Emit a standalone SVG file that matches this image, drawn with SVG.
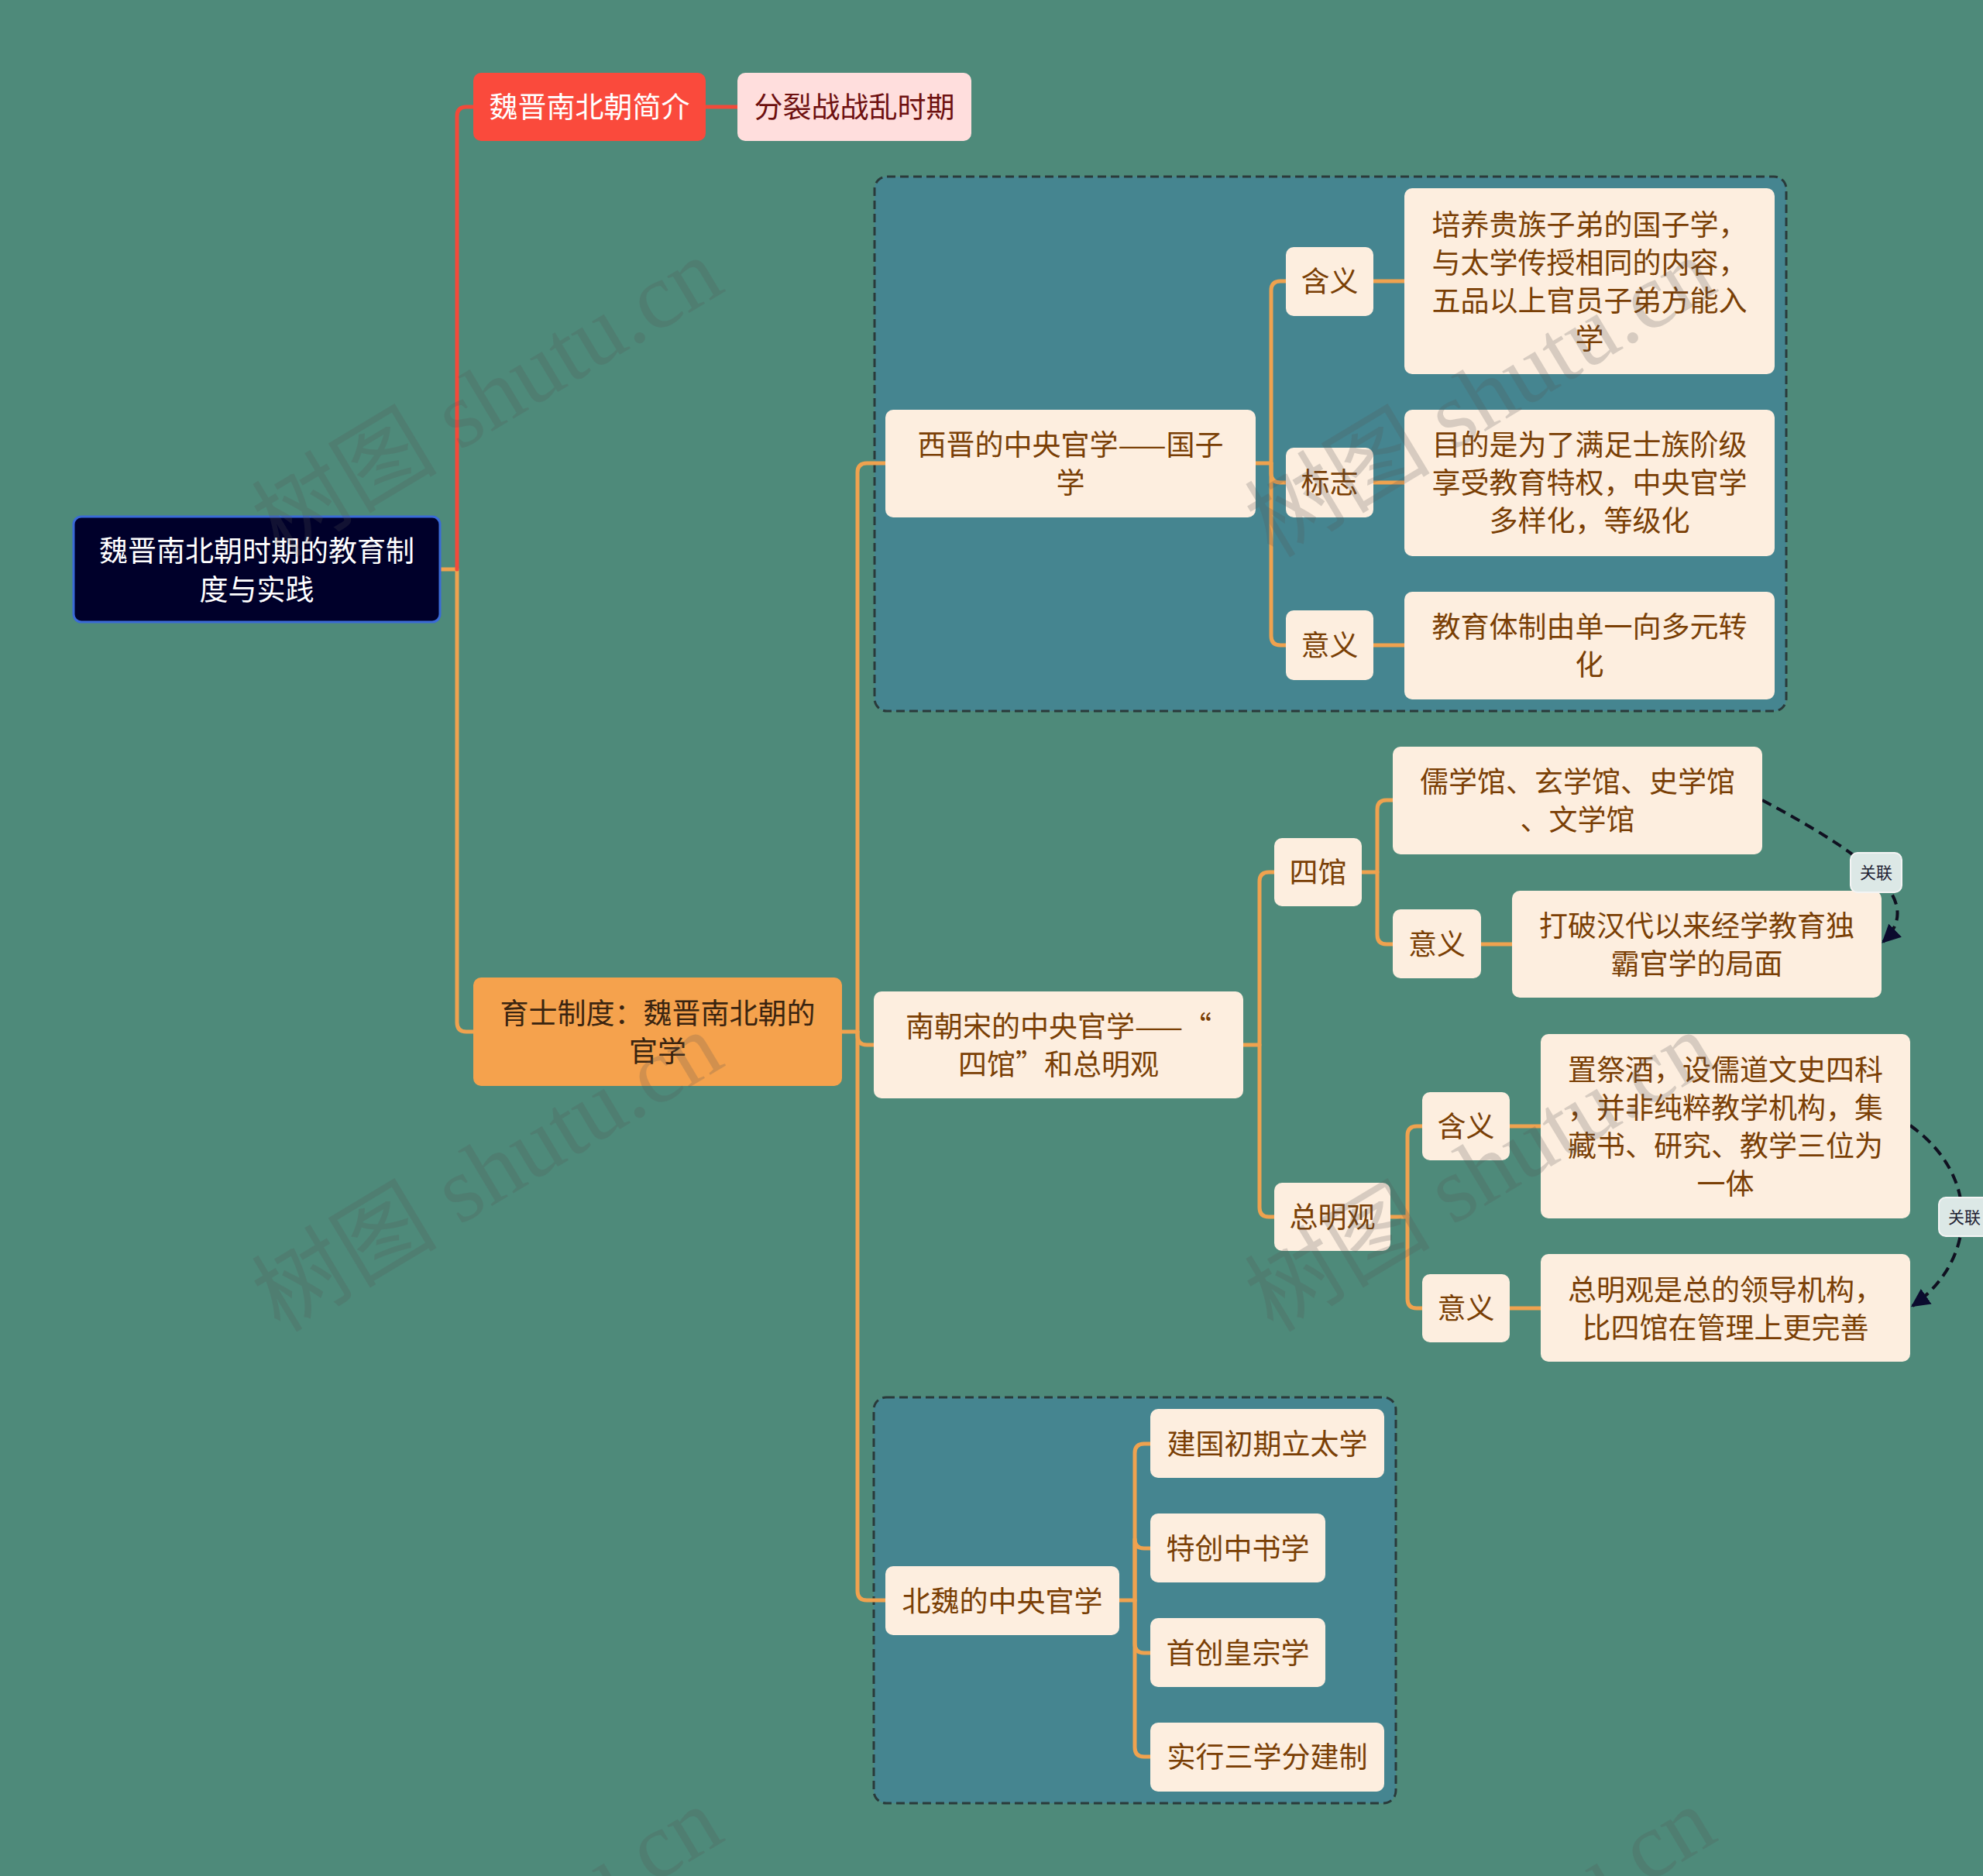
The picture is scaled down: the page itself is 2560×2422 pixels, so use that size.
<svg xmlns="http://www.w3.org/2000/svg" width="2560" height="2422" viewBox="0 0 2560 2422">
<defs>
<style>
.t{font-family:"Noto Sans CJK SC","Noto Sans",sans-serif;font-size:37px;text-anchor:middle}
.n rect{fill:#fdeedf}
.n text{fill:#7a3f05}
.ln{fill:none;stroke:#efa24f;stroke-width:5;stroke-linecap:round;stroke-linejoin:round}
.red{fill:none;stroke:#f24a3a;stroke-width:5;stroke-linecap:round}
.grp{fill:#458590;stroke:#2a3a3a;stroke-width:3;stroke-dasharray:11 6}
.rel{fill:none;stroke:#101020;stroke-width:4;stroke-dasharray:13 8}
.lab rect{fill:#dce8e6;stroke:#f4f4f4;stroke-width:2}
.lab text{font-family:"Noto Sans CJK SC",sans-serif;font-size:21px;fill:#222233;text-anchor:middle}
.wm{font-family:"Liberation Serif","Noto Sans CJK SC",serif;font-size:120px;fill:#555555;opacity:0.22;text-anchor:middle}
</style>
<marker id="arr" viewBox="0 0 10 10" refX="9" refY="5" markerWidth="6" markerHeight="6" markerUnits="strokeWidth" orient="auto">
<path d="M0,0 L10,5 L0,10 z" fill="#0b0b2e"/>
</marker>
</defs>
<rect width="2560" height="2422" fill="#4e8a7a"/>

<g id="groups">
<rect class="grp" x="1129" y="228" width="1177" height="690" rx="16"/>
<rect class="grp" x="1128" y="1804" width="674" height="524" rx="16"/>
</g>

<g id="connectors">
<path class="ln" d="M568,735 H590 V1320 Q590,1332 602,1332 H611"/>
<path class="red" d="M590,735 V150 Q590,138 602,138 H611"/>
<path class="red" d="M911,138 H952"/>
<path class="ln" d="M1087,1332 H1107 V610 Q1107,598 1119,598 H1143"/>
<path class="ln" d="M1107,1332 V1337 Q1107,1349 1119,1349 H1128"/>
<path class="ln" d="M1107,1332 V2054 Q1107,2066 1119,2066 H1143"/>
<path class="ln" d="M1621,598 H1641 V375 Q1641,363 1653,363 H1660"/>
<path class="ln" d="M1641,598 V611 Q1641,623 1653,623 H1660"/>
<path class="ln" d="M1641,598 V821 Q1641,833 1653,833 H1660"/>
<path class="ln" d="M1773,363 H1813"/>
<path class="ln" d="M1773,623 H1813"/>
<path class="ln" d="M1773,833 H1813"/>
<path class="ln" d="M1605,1349 H1626 V1138 Q1626,1126 1638,1126 H1645"/>
<path class="ln" d="M1626,1349 V1559 Q1626,1571 1638,1571 H1645"/>
<path class="ln" d="M1758,1126 H1778 V1045 Q1778,1033 1790,1033 H1798"/>
<path class="ln" d="M1778,1126 V1207 Q1778,1219 1790,1219 H1798"/>
<path class="ln" d="M1912,1219 H1952"/>
<path class="ln" d="M1795,1571 H1817 V1466 Q1817,1454 1829,1454 H1836"/>
<path class="ln" d="M1817,1571 V1677 Q1817,1689 1829,1689 H1836"/>
<path class="ln" d="M1949,1454 H1989"/>
<path class="ln" d="M1949,1689 H1989"/>
<path class="ln" d="M1444,2066 H1465 V1876 Q1465,1864 1477,1864 H1485"/>
<path class="ln" d="M1465,2066 V1987 Q1465,1999 1477,1999 H1485"/>
<path class="ln" d="M1465,2066 V2122 Q1465,2134 1477,2134 H1485"/>
<path class="ln" d="M1465,2066 V2256 Q1465,2268 1477,2268 H1485"/>
<path class="rel" d="M2275,1033 C2400,1100 2490,1160 2431,1216" marker-end="url(#arr)"/>
<path class="rel" d="M2466,1453 C2560,1520 2550,1630 2469,1686" marker-end="url(#arr)"/>
</g>

<g id="root">
<rect x="95" y="667" width="473" height="136" rx="10" fill="#00002a" stroke="#3a6ad6" stroke-width="3"/>
<text class="t" fill="#ffffff"><tspan x="331.5" y="725">魏晋南北朝时期的教育制</tspan><tspan x="331.5" y="775">度与实践</tspan></text>
</g>
<g id="n-intro">
<rect x="611" y="94" width="300" height="88" rx="10" fill="#fa4a3c"/>
<text class="t" fill="#ffffff" x="761" y="152">魏晋南北朝简介</text>
</g>
<g id="n-split">
<rect x="952" y="94" width="302" height="88" rx="10" fill="#ffdedd"/>
<text class="t" fill="#6e1010" x="1103" y="152">分裂战战乱时期</text>
</g>
<g id="n-yushi">
<rect x="611" y="1262" width="476" height="140" rx="10" fill="#f5a24d"/>
<text class="t" fill="#3a2410"><tspan x="849" y="1321.5">育士制度：魏晋南北朝的</tspan><tspan x="849" y="1370.5">官学</tspan></text>
</g>

<g id="n-xijin" class="n">
<rect x="1143" y="529" width="478" height="139" rx="10"/>
<text class="t"><tspan x="1382" y="587.5">西晋的中央官学——国子</tspan><tspan x="1382" y="636.5">学</tspan></text>
</g>
<g id="n-hanyi1" class="n">
<rect x="1660" y="319" width="113" height="89" rx="10"/>
<text class="t" x="1716.5" y="377">含义</text>
</g>
<g id="n-biaozhi" class="n">
<rect x="1660" y="578" width="113" height="90" rx="10"/>
<text class="t" x="1716.5" y="637">标志</text>
</g>
<g id="n-yiyi1" class="n">
<rect x="1660" y="788" width="113" height="90" rx="10"/>
<text class="t" x="1716.5" y="847">意义</text>
</g>
<g id="n-t1" class="n">
<rect x="1813" y="243" width="478" height="240" rx="10"/>
<text class="t"><tspan x="2052" y="303.5">培养贵族子弟的国子学，</tspan><tspan x="2052" y="352.5">与太学传授相同的内容，</tspan><tspan x="2052" y="401.5">五品以上官员子弟方能入</tspan><tspan x="2052" y="450.5">学</tspan></text>
</g>
<g id="n-t2" class="n">
<rect x="1813" y="529" width="478" height="189" rx="10"/>
<text class="t"><tspan x="2052" y="588">目的是为了满足士族阶级</tspan><tspan x="2052" y="637">享受教育特权，中央官学</tspan><tspan x="2052" y="686">多样化，等级化</tspan></text>
</g>
<g id="n-t3" class="n">
<rect x="1813" y="764" width="478" height="139" rx="10"/>
<text class="t"><tspan x="2052" y="822.5">教育体制由单一向多元转</tspan><tspan x="2052" y="871.5">化</tspan></text>
</g>

<g id="n-nanchao" class="n">
<rect x="1128" y="1280" width="477" height="138" rx="10"/>
<text class="t"><tspan x="1366.5" y="1338.5">南朝宋的中央官学——“</tspan><tspan x="1366.5" y="1387.5">四馆”和总明观</tspan></text>
</g>
<g id="n-siguan" class="n">
<rect x="1645" y="1082" width="113" height="88" rx="10"/>
<text class="t" x="1701.5" y="1140">四馆</text>
</g>
<g id="n-zongmingguan" class="n">
<rect x="1645" y="1527" width="150" height="88" rx="10"/>
<text class="t" x="1720" y="1585">总明观</text>
</g>
<g id="n-ruxue" class="n">
<rect x="1798" y="964" width="477" height="139" rx="10"/>
<text class="t"><tspan x="2036.5" y="1023">儒学馆、玄学馆、史学馆</tspan><tspan x="2036.5" y="1072">、文学馆</tspan></text>
</g>
<g id="n-yiyi2" class="n">
<rect x="1798" y="1174" width="114" height="89" rx="10"/>
<text class="t" x="1855" y="1233">意义</text>
</g>
<g id="n-dapo" class="n">
<rect x="1952" y="1150" width="477" height="138" rx="10"/>
<text class="t"><tspan x="2190.5" y="1208.5">打破汉代以来经学教育独</tspan><tspan x="2190.5" y="1257.5">霸官学的局面</tspan></text>
</g>
<g id="n-hanyi2" class="n">
<rect x="1836" y="1410" width="113" height="88" rx="10"/>
<text class="t" x="1892.5" y="1468">含义</text>
</g>
<g id="n-zhiji" class="n">
<rect x="1989" y="1335" width="477" height="238" rx="10"/>
<text class="t"><tspan x="2227.5" y="1394.5">置祭酒，设儒道文史四科</tspan><tspan x="2227.5" y="1443.5">，并非纯粹教学机构，集</tspan><tspan x="2227.5" y="1492.5">藏书、研究、教学三位为</tspan><tspan x="2227.5" y="1541.5">一体</tspan></text>
</g>
<g id="n-yiyi3" class="n">
<rect x="1836" y="1645" width="113" height="88" rx="10"/>
<text class="t" x="1892.5" y="1703">意义</text>
</g>
<g id="n-zongshi" class="n">
<rect x="1989" y="1619" width="477" height="139" rx="10"/>
<text class="t"><tspan x="2227.5" y="1678.5">总明观是总的领导机构，</tspan><tspan x="2227.5" y="1727.5">比四馆在管理上更完善</tspan></text>
</g>

<g id="n-beiwei" class="n">
<rect x="1143" y="2022" width="302" height="89" rx="10"/>
<text class="t" x="1294" y="2080.5">北魏的中央官学</text>
</g>
<g id="n-b1" class="n">
<rect x="1485" y="1819" width="302" height="89" rx="10"/>
<text class="t" x="1636" y="1878">建国初期立太学</text>
</g>
<g id="n-b2" class="n">
<rect x="1485" y="1954" width="226" height="89" rx="10"/>
<text class="t" x="1598" y="2013">特创中书学</text>
</g>
<g id="n-b3" class="n">
<rect x="1485" y="2089" width="226" height="89" rx="10"/>
<text class="t" x="1598" y="2148">首创皇宗学</text>
</g>
<g id="n-b4" class="n">
<rect x="1485" y="2224" width="302" height="89" rx="10"/>
<text class="t" x="1636" y="2282">实行三学分建制</text>
</g>

<g id="labels">
<g class="lab"><rect x="2389" y="1101" width="66" height="51" rx="9"/><text x="2422" y="1134">关联</text></g>
<g class="lab"><rect x="2503" y="1546" width="66" height="50" rx="9"/><text x="2536" y="1579">关联</text></g>
</g>

<g id="watermark">
<text class="wm" transform="translate(650,548) rotate(-31)">树图 shutu.cn</text>
<text class="wm" transform="translate(650,1548) rotate(-31)">树图 shutu.cn</text>
<text class="wm" transform="translate(650,2548) rotate(-31)">树图 shutu.cn</text>
<text class="wm" transform="translate(1932,548) rotate(-31)">树图 shutu.cn</text>
<text class="wm" transform="translate(1932,1548) rotate(-31)">树图 shutu.cn</text>
<text class="wm" transform="translate(1932,2548) rotate(-31)">树图 shutu.cn</text>
</g>
</svg>
